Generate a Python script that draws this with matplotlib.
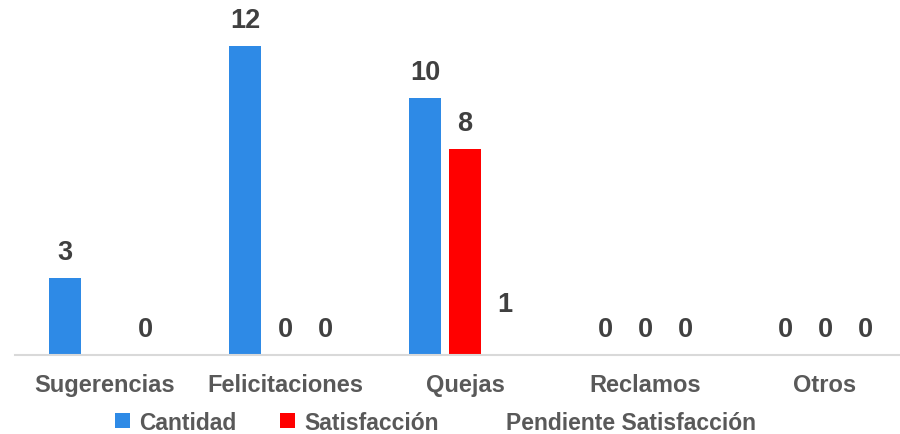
import numpy as np
import matplotlib
matplotlib.use("Agg")
import matplotlib.pyplot as plt
from matplotlib.patches import Patch

plt.rcParams["font.family"] = ["Liberation Sans", "DejaVu Sans"]

# ── Data ──────────────────────────────────────────────────────────────────────
CATEGORIES = ["Sugerencias", "Felicitaciones", "Quejas", "Reclamos", "Otros"]
CANTIDAD = [3, 12, 10, 0, 0]
SATISFACCION = [np.nan, 0, 8, 0, 0]          # no value for Sugerencias
PENDIENTE = [0, 0, 1, 0, 0]

SERIES = [
    ("Cantidad", CANTIDAD, "#2E8AE6"),
    ("Satisfacción", SATISFACCION, "#FF0000"),
    ("Pendiente Satisfacción", PENDIENTE, "#FFFFFF"),
]

LABEL_COLOR = "#404040"
AXIS_TEXT = "#595959"

fig = plt.figure(figsize=(9.0, 4.35), dpi=100)
ax = fig.add_axes([15 / 900, 79 / 435, 885 / 900, 356 / 435])

x = np.arange(len(CATEGORIES))
width = 0.178
offset = 0.222

for i, (name, vals, color) in enumerate(SERIES):
    pos = x + (i - 1) * offset
    v = np.array(vals, dtype=float)
    ax.bar(pos, np.nan_to_num(v), width=width, color=color, edgecolor="none",
           label=name, zorder=2)
    for px, val in zip(pos, v):
        if np.isnan(val):
            continue
        ax.annotate(f"{int(val)}", (px, val), xytext=(0, 9),
                    textcoords="offset points", ha="center", va="bottom",
                    fontsize=19.5, fontweight="bold", color=LABEL_COLOR)

ax.set_xlim(-0.5, -0.5 + 885 / 180)
ax.set_ylim(0, 12 * 356 / 309)
ax.set_yticks([])
ax.set_xticks(x)
ax.set_xticklabels(CATEGORIES, fontsize=17, fontweight="bold", color=AXIS_TEXT)
ax.tick_params(axis="x", length=0, pad=13)
for side in ["top", "left", "right"]:
    ax.spines[side].set_visible(False)
ax.spines["bottom"].set_color("#D9D9D9")
ax.spines["bottom"].set_linewidth(1.5)

handles = [Patch(facecolor=c, edgecolor="none", label=n) for n, _, c in SERIES]
leg = fig.legend(handles=handles, loc="center", bbox_to_anchor=(0.484, 0.027),
                 ncol=3, frameon=False, handlelength=0.65, handleheight=0.65,
                 handletextpad=0.4, columnspacing=1.9,
                 prop={"size": 16.5, "weight": "bold"})
for t in leg.get_texts():
    t.set_color(AXIS_TEXT)

fig.savefig("out.png", dpi=100)
